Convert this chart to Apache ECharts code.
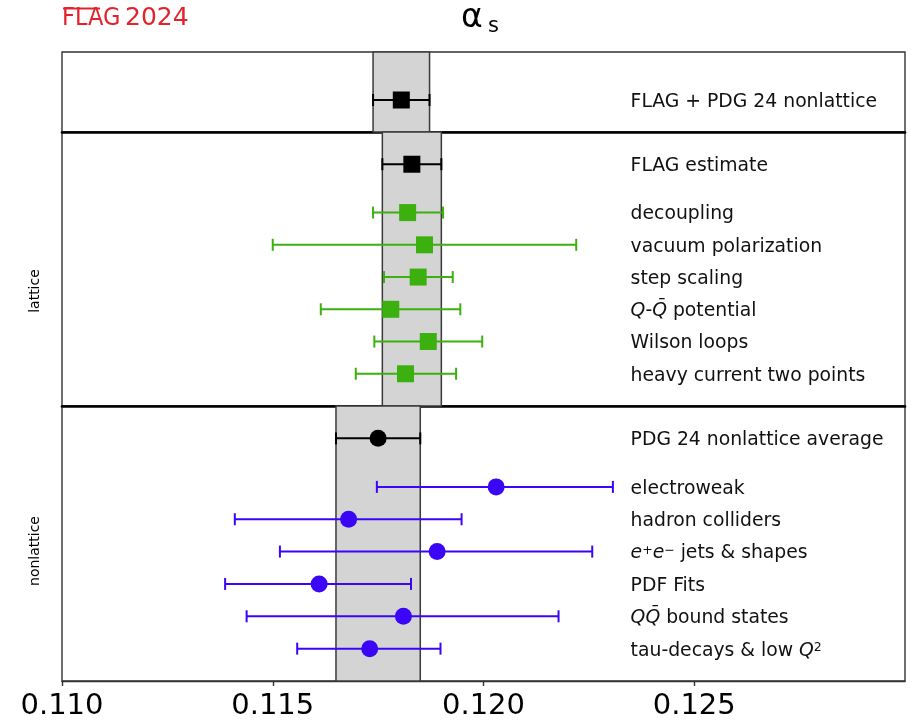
<!DOCTYPE html>
<html><head><meta charset="utf-8">
<script src="https://cdn.jsdelivr.net/npm/echarts@6/dist/echarts.min.js"></script>
<style>html,body{margin:0;padding:0;background:#fff}#c{width:913px;height:724px}</style>
</head><body><div id="c"></div>
<script>
// ---- data ----
const xTicks = [0.110, 0.115, 0.120, 0.125];

const combinedLabels = ['FLAG + PDG 24 nonlattice'];
const combinedValues = [0.11805];
const combinedLow = [0.11738];
const combinedHigh = [0.11872];
const combinedRows = [0];

const latticeLabels = ['FLAG estimate', 'decoupling', 'vacuum polarization', 'step scaling',
  '{i|Q}-{i|Q\u0304} potential', 'Wilson loops', 'heavy current two points'];
const latticeValues = [0.1183, 0.1182, 0.1186, 0.11845, 0.1178, 0.11869, 0.11815];
const latticeLow = [0.1176, 0.11738, 0.1150, 0.11764, 0.11614, 0.11741, 0.11697];
const latticeHigh = [0.1190, 0.11904, 0.1222, 0.11927, 0.11945, 0.11997, 0.11935];
const latticeRows = [0, 1.5, 2.5, 3.5, 4.5, 5.5, 6.5];

const nonlatticeLabels = ['PDG 24 nonlattice average', 'electroweak', 'hadron colliders',
  '{i|e}{sup|+}{i|e}{sup|\u2212} jets & shapes', 'PDF Fits', '{i|QQ\u0304} bound states',
  'tau-decays & low {i|Q}{sup|2}'];
const nonlatticeValues = [0.1175, 0.1203, 0.1168, 0.1189, 0.1161, 0.1181, 0.1173];
const nonlatticeLow = [0.1165, 0.11747, 0.1141, 0.11517, 0.11387, 0.11438, 0.11558];
const nonlatticeHigh = [0.1185, 0.12307, 0.11948, 0.12258, 0.11828, 0.12178, 0.11898];
const nonlatticeRows = [0, 1.5, 2.5, 3.5, 4.5, 5.5, 6.5];

// ---- styling ----
const GREEN = '#3bb00f';
const BLUE = '#3a06f5';
const BLACK = '#000000';
const FONT = "'DejaVu Sans', sans-serif";

const richStyles = {
  n: { fontFamily: FONT, fontSize: 18.8, fill: '#111' },
  i: { fontFamily: FONT, fontSize: 18.8, fontStyle: 'italic', fill: '#111' },
  sup: { fontFamily: FONT, fontSize: 12.5, verticalAlign: 'top', fill: '#111' }
};

function panelSeries(idx, labels, values, low, high, rows, mainColor, symbol) {
  const colors = rows.map((r, i) => i === 0 ? BLACK : mainColor);
  return [
    {
      type: 'custom', xAxisIndex: idx, yAxisIndex: idx, z: 3, silent: true,
      data: rows.map((r, i) => [low[i], high[i], r, i]),
      encode: { x: [0, 1], y: 2 },
      renderItem(params, api) {
        const lo = api.coord([api.value(0), api.value(2)]);
        const hi = api.coord([api.value(1), api.value(2)]);
        const c = colors[api.value(3)];
        const cap = 6;
        const st = { stroke: c, lineWidth: 2 };
        return { type: 'group', children: [
          { type: 'line', shape: { x1: lo[0], y1: lo[1], x2: hi[0], y2: hi[1] }, style: st },
          { type: 'line', shape: { x1: lo[0], y1: lo[1] - cap, x2: lo[0], y2: lo[1] + cap }, style: st },
          { type: 'line', shape: { x1: hi[0], y1: hi[1] - cap, x2: hi[0], y2: hi[1] + cap }, style: st }
        ]};
      },
      markArea: {
        silent: true,
        itemStyle: { color: '#d4d4d4', borderColor: '#3a3a3a', borderWidth: 1.5 },
        data: [[{ xAxis: low[0] }, { xAxis: high[0] }]]
      }
    },
    {
      type: 'scatter', xAxisIndex: idx, yAxisIndex: idx, z: 4, silent: true,
      symbol: symbol, symbolSize: 17,
      data: rows.map((r, i) => ({ value: [values[i], r], itemStyle: { color: colors[i], opacity: 1 } }))
    },
    {
      type: 'custom', xAxisIndex: idx, yAxisIndex: idx, z: 5, silent: true,
      data: rows.map((r, i) => [values[i], r, i]),
      encode: { x: 0, y: 1 },
      renderItem(params, api) {
        const cs = params.coordSys;
        const p = api.coord([api.value(0), api.value(1)]);
        const txt = labels[api.value(2)];
        const parts = txt.indexOf('{') >= 0 ? txt.replace(/(^|\})([^{}]+)(\{|$)/g, (m, a, b, c) => a + '{n|' + b + '}' + c) : '{n|' + txt + '}';
        return {
          type: 'text',
          x: cs.x + cs.width * 0.6745, y: p[1] + 2,
          style: { text: parts, rich: richStyles, verticalAlign: 'middle', align: 'left' }
        };
      }
    }
  ];
}

const chart = echarts.init(document.getElementById('c'), null, { renderer: 'canvas' });

const gridBase = { left: 62, right: 8, show: true, borderColor: '#333', borderWidth: 1.4, backgroundColor: 'transparent' };

function xAxisFor(idx, bottom) {
  return {
    type: 'value', gridIndex: idx, min: 0.110, max: 0.130, interval: 0.005,
    position: 'bottom',
    splitLine: { show: false },
    axisLine: { show: true, onZero: false, lineStyle: bottom ? { color: '#333', width: 1.4 } : { color: '#000', width: 2.6 } },
    axisTick: bottom ? { show: true, customValues: xTicks, length: 5, lineStyle: { color: '#333', width: 1.4 } } : { show: false },
    axisLabel: bottom ? { show: true, customValues: xTicks, formatter: v => v.toFixed(3), fontFamily: FONT, fontSize: 29, color: '#000', margin: 11 } : { show: false }
  };
}

chart.setOption({
  animation: false,
  backgroundColor: '#fff',
  grid: [
    Object.assign({ top: 52, height: 80 }, gridBase),
    Object.assign({ top: 132, height: 274 }, gridBase),
    Object.assign({ top: 406, height: 275 }, gridBase)
  ],
  xAxis: [xAxisFor(0, false), xAxisFor(1, false), xAxisFor(2, true)],
  yAxis: [
    { type: 'value', gridIndex: 0, inverse: true, min: -1.5, max: 1, show: false },
    { type: 'value', gridIndex: 1, inverse: true, min: -1, max: 7.5, show: false },
    { type: 'value', gridIndex: 2, inverse: true, min: -1, max: 7.5, show: false }
  ],
  series: [].concat(
    panelSeries(0, combinedLabels, combinedValues, combinedLow, combinedHigh, combinedRows, BLACK, 'rect'),
    panelSeries(1, latticeLabels, latticeValues, latticeLow, latticeHigh, latticeRows, GREEN, 'rect'),
    panelSeries(2, nonlatticeLabels, nonlatticeValues, nonlatticeLow, nonlatticeHigh, nonlatticeRows, BLUE, 'circle')
  ),
  graphic: [
    { type: 'text', x: 62, y: 6, style: { text: 'FLAG', fontFamily: "'DejaVu Sans Condensed', 'DejaVu Sans', sans-serif", fontSize: 25, fill: '#e3232c' } },
    { type: 'line', shape: { x1: 63, y1: 8.5, x2: 100, y2: 8.5 }, style: { stroke: '#e3232c', lineWidth: 2 } },
    { type: 'text', x: 125, y: 6, style: { text: '2024', fontFamily: FONT, fontSize: 25, fill: '#e3232c' } },
    { type: 'text', x: 461, y: 2, style: { text: '\u03b1', fontFamily: FONT, fontSize: 33, fill: '#000' } },
    { type: 'text', x: 488, y: 16, style: { text: 's', fontFamily: FONT, fontSize: 21, fill: '#000' } },
    { type: 'text', x: 35, y: 291, rotation: Math.PI / 2, style: { text: 'lattice', fontFamily: FONT, fontSize: 14, fill: '#000', align: 'center', verticalAlign: 'middle' } },
    { type: 'text', x: 35, y: 551, rotation: Math.PI / 2, style: { text: 'nonlattice', fontFamily: FONT, fontSize: 14, fill: '#000', align: 'center', verticalAlign: 'middle' } }
  ]
});
</script>
</body></html>
